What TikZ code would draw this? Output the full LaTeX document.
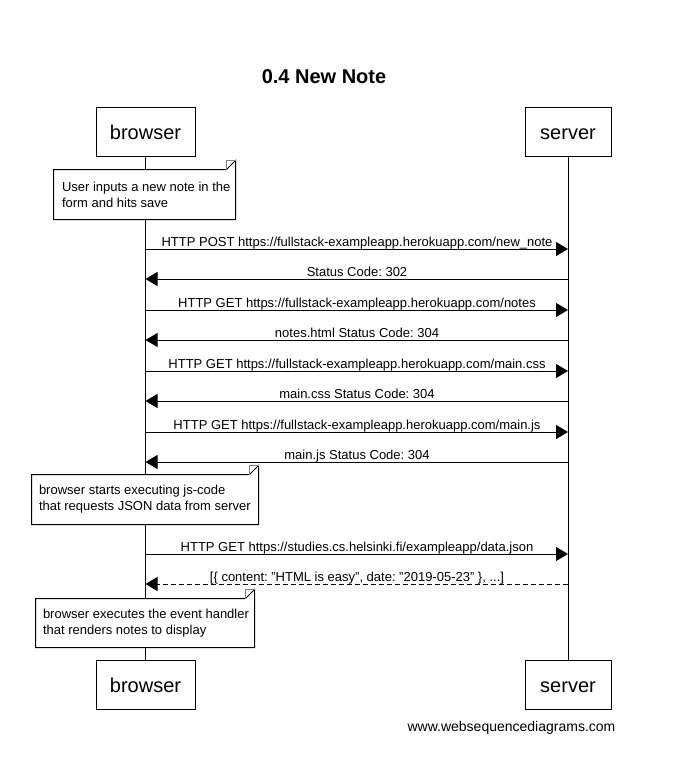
\documentclass[tikz,border=0pt]{standalone}
\usepackage{fontspec}
\setmainfont{Liberation Sans}
\usetikzlibrary{arrows.meta}
\frenchspacing
\begin{document}
\begin{tikzpicture}[x=1pt,y=-1pt,line width=1pt,
  actor/.style={draw, fill=white, minimum height=49pt, inner sep=0pt, text height=15.6pt, text depth=0pt, font=\fontsize{20}{24}\selectfont},
  msg/.style={-{Triangle[length=12pt,width=14pt]}},
  reply/.style={msg, dash pattern=on 5pt off 3pt},
  lbl/.style={font=\fontsize{13}{16}\selectfont, anchor=base, inner sep=0pt},
  notebg/.style={draw=none, inner sep=0pt},
  notetext/.style={font=\fontsize{13}{16}\selectfont, align=left, anchor=west, inner sep=0pt},
  fold/.style={draw=gray, line width=0.8pt}
]
\useasboundingbox (0,0) rectangle (683,771);

\node[font=\bfseries\fontsize{20}{24}\selectfont] (title) at (324,77) {0.4 New Note};

% lifelines
\coordinate (bl1) at (145.5,156);
\coordinate (bl2) at (145.5,660);
\coordinate (sl1) at (568,156);
\coordinate (sl2) at (568,660);
\draw (bl1) -- (bl2);
\draw (sl1) -- (sl2);

% actors
\node[actor, minimum width=99pt] (bt) at (145.5,131.5) {browser};
\node[actor, minimum width=86pt] (st) at (568,131.5) {server};
\node[actor, minimum width=99pt] (bb) at (145.5,684.5) {browser};
\node[actor, minimum width=86pt] (sb) at (568,684.5) {server};

% note 1
\node[notebg, minimum width=181pt, minimum height=49pt] (n1) at (144.5,194.5) {};
\filldraw[fill=white] (n1.north west) -- ([xshift=-9pt]n1.north east) -- ([yshift=9pt]n1.north east) -- (n1.south east) -- (n1.south west) -- cycle;
\draw[fold] ([xshift=-9pt]n1.north east) -- ([xshift=-9pt,yshift=9pt]n1.north east) -- ([yshift=9pt]n1.north east);
\node[notetext] (n1t) at ([xshift=8pt]n1.west) {User inputs a new note in the\\form and hits save};

% messages
\coordinate (b1) at (145.5,249); \coordinate (s1) at (568,249);
\draw[msg] (b1) -- (s1);
\node[lbl] (m1) at (357,246) {HTTP POST https://fullstack-exampleapp.herokuapp.com/new\_note};

\coordinate (b2) at (145.5,279); \coordinate (s2) at (568,279);
\draw[msg] (s2) -- (b2);
\node[lbl] (m2) at (357,276) {Status Code: 302};

\coordinate (b3) at (145.5,310); \coordinate (s3) at (568,310);
\draw[msg] (b3) -- (s3);
\node[lbl] (m3) at (357,307) {HTTP GET https://fullstack-exampleapp.herokuapp.com/notes};

\coordinate (b4) at (145.5,340); \coordinate (s4) at (568,340);
\draw[msg] (s4) -- (b4);
\node[lbl] (m4) at (357,337) {notes.html Status Code: 304};

\coordinate (b5) at (145.5,371); \coordinate (s5) at (568,371);
\draw[msg] (b5) -- (s5);
\node[lbl] (m5) at (357,368) {HTTP GET https://fullstack-exampleapp.herokuapp.com/main.css};

\coordinate (b6) at (145.5,401); \coordinate (s6) at (568,401);
\draw[msg] (s6) -- (b6);
\node[lbl] (m6) at (357,398) {main.css Status Code: 304};

\coordinate (b7) at (145.5,432); \coordinate (s7) at (568,432);
\draw[msg] (b7) -- (s7);
\node[lbl] (m7) at (357,429) {HTTP GET https://fullstack-exampleapp.herokuapp.com/main.js};

\coordinate (b8) at (145.5,462); \coordinate (s8) at (568,462);
\draw[msg] (s8) -- (b8);
\node[lbl] (m8) at (357,459) {main.js Status Code: 304};

% note 2
\node[notebg, minimum width=226pt, minimum height=49pt] (n2) at (145,499.5) {};
\filldraw[fill=white] (n2.north west) -- ([xshift=-9pt]n2.north east) -- ([yshift=9pt]n2.north east) -- (n2.south east) -- (n2.south west) -- cycle;
\draw[fold] ([xshift=-9pt]n2.north east) -- ([xshift=-9pt,yshift=9pt]n2.north east) -- ([yshift=9pt]n2.north east);
\node[notetext] (n2t) at ([xshift=7pt]n2.west) {browser starts executing js-code\\that requests JSON data from server};

\coordinate (b9) at (145.5,554); \coordinate (s9) at (568,554);
\draw[msg] (b9) -- (s9);
\node[lbl] (m9) at (357,551) {HTTP GET https://studies.cs.helsinki.fi/exampleapp/data.json};

\coordinate (b10) at (145.5,584); \coordinate (s10) at (568,584);
\draw[reply] (s10) -- (b10);
\node[lbl] (m10) at (357,581) {[\{ content: \symbol{34}HTML is easy\symbol{34}, date: \symbol{34}2019-05-23\symbol{34} \}, ...]};

% note 3
\node[notebg, minimum width=218pt, minimum height=48pt] (n3) at (145,623) {};
\filldraw[fill=white] (n3.north west) -- ([xshift=-9pt]n3.north east) -- ([yshift=9pt]n3.north east) -- (n3.south east) -- (n3.south west) -- cycle;
\draw[fold] ([xshift=-9pt]n3.north east) -- ([xshift=-9pt,yshift=9pt]n3.north east) -- ([yshift=9pt]n3.north east);
\node[notetext] (n3t) at ([xshift=7pt]n3.west) {browser executes the event handler\\that renders notes to display};

\node[font=\fontsize{14}{17}\selectfont] (footer) at (511.5,728) {www.websequencediagrams.com};
\end{tikzpicture}
\end{document}
